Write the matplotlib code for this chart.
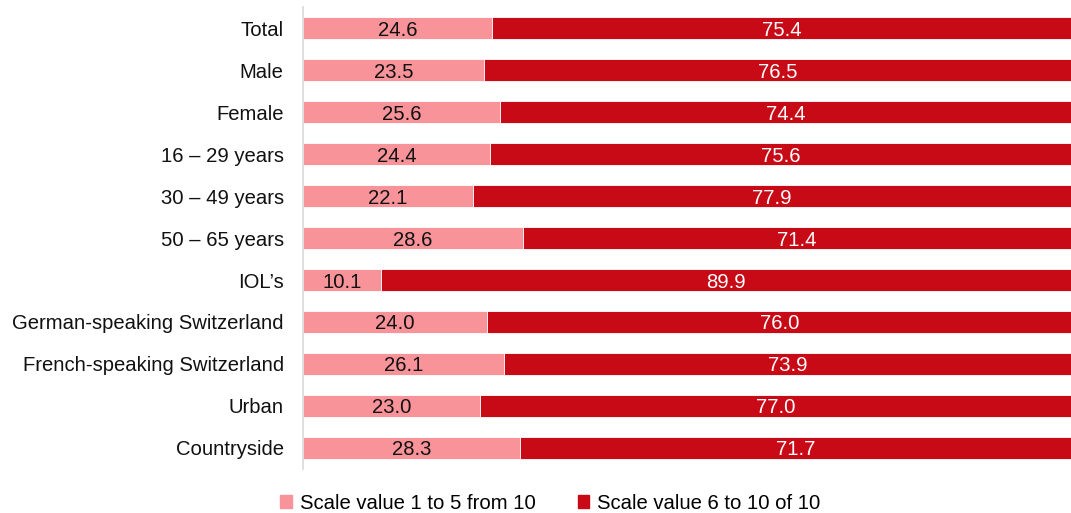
import matplotlib
matplotlib.use('Agg')
import matplotlib.pyplot as plt
from matplotlib.patches import Patch

plt.rcParams['font.family'] = ['Liberation Sans', 'DejaVu Sans']

groups = ['Total', 'Male', 'Female', '16 – 29 years', '30 – 49 years', '50 – 65 years',
          'IOL’s', 'German-speaking Switzerland', 'French-speaking Switzerland',
          'Urban', 'Countryside']
low = [24.6, 23.5, 25.6, 24.4, 22.1, 28.6, 10.1, 24.0, 26.1, 23.0, 28.3]
high = [75.4, 76.5, 74.4, 75.6, 77.9, 71.4, 89.9, 76.0, 73.9, 77.0, 71.7]

pink = '#F8939A'
red = '#C80A16'
fs = 14.6

fig = plt.figure(figsize=(10.71, 5.13), dpi=100)
ax = fig.add_axes([0.283, 0.086, 0.717, 0.9])

y = list(range(len(groups)))
ax.barh(y, low, height=0.53, color=pink, edgecolor='white', linewidth=0.6)
ax.barh(y, high, left=low, height=0.53, color=red, edgecolor='white', linewidth=0.6)

# value labels centred in each segment
for i in y:
    ax.text(low[i] / 2, i, f'{low[i]:.1f}', ha='center', va='center_baseline',
            fontsize=fs, color='#111111')
    ax.text(low[i] + high[i] / 2, i, f'{high[i]:.1f}', ha='center', va='center_baseline',
            fontsize=fs, color='white')

ax.set_xlim(0, 100)
ax.set_ylim(len(groups) - 0.5, -0.5)
ax.set_yticks(y)
ax.set_yticklabels(groups, fontsize=fs, color='#111111')
ax.tick_params(axis='y', length=0, pad=14)
ax.set_xticks([])
for s in ['top', 'right', 'bottom']:
    ax.spines[s].set_visible(False)
ax.spines['left'].set_color('#d9d9d9')
ax.spines['left'].set_linewidth(1.2)

handles = [Patch(color=pink, label='Scale value 1 to 5 from 10'),
           Patch(color=red, label='Scale value 6 to 10 of 10')]
fig.legend(handles=handles, loc='center', bbox_to_anchor=(0.514, 0.019), ncol=2,
           frameon=False, fontsize=fs, handlelength=0.55, handleheight=0.55,
           handletextpad=0.4, columnspacing=2.1)

fig.savefig('out.png', dpi=100)
